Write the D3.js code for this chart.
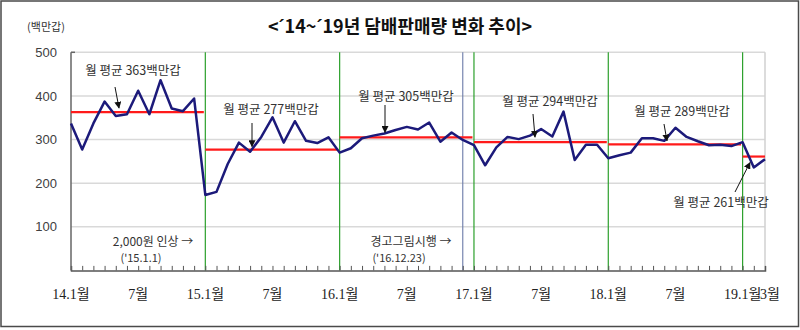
<!DOCTYPE html>
<html>
<head>
<meta charset="utf-8">
<script src="https://cdn.jsdelivr.net/npm/d3@7"></script>
<style>
  html, body { margin: 0; padding: 0; background: #fff; }
  svg { display: block; }
</style>
</head>
<body>
<svg id="chart" width="800" height="330"></svg>
<script>
// Monthly cigarette sales, Jan 2014 – Mar 2019 (million packs)
const months = [
  "14.1","14.2","14.3","14.4","14.5","14.6","14.7","14.8","14.9","14.10","14.11","14.12",
  "15.1","15.2","15.3","15.4","15.5","15.6","15.7","15.8","15.9","15.10","15.11","15.12",
  "16.1","16.2","16.3","16.4","16.5","16.6","16.7","16.8","16.9","16.10","16.11","16.12",
  "17.1","17.2","17.3","17.4","17.5","17.6","17.7","17.8","17.9","17.10","17.11","17.12",
  "18.1","18.2","18.3","18.4","18.5","18.6","18.7","18.8","18.9","18.10","18.11","18.12",
  "19.1","19.2","19.3"
];
const sales = [
  337, 277, 337, 387, 354, 358, 412, 358, 436, 371, 365, 394,
  173, 180, 244, 293, 272, 306, 351, 293, 342, 297, 292, 305,
  270, 280, 303, 309, 314, 322, 329, 323, 339, 295, 316, 299,
  287, 241, 282, 306, 301, 309, 324, 307, 364, 253, 288, 288,
  257, 264, 270, 303, 303, 297, 327, 306, 296, 287, 288, 285,
  294, 236, 255
];

// Yearly monthly averages and the month span each one covers
const avgYears  = ["2014", "2015", "2016", "2017", "2018", "2019"];
const avgValues = [363, 277, 305, 294, 289, 261];
const avgStart  = ["14.1", "15.1", "16.1", "17.1", "18.1", "19.1"];
const avgEnd    = ["15.1", "16.1", "17.1", "18.1", "19.1", "19.3"];

// Axis ticks
const yTicks = [100, 200, 300, 400, 500];
const xTickMonths = ["14.1", "14.7", "15.1", "15.7", "16.1", "16.7", "17.1", "17.7", "18.1", "18.7", "19.1", "19.3"];
const xTickLabels = ["14.1월", "7월", "15.1월", "7월", "16.1월", "7월", "17.1월", "7월", "18.1월", "7월", "19.1월", "3월"];

// Year boundaries and the policy event line
const yearStarts = ["15.1", "16.1", "17.1", "18.1", "19.1"];
const eventMonth = "16.12";

const svg = d3.select("#chart");
const W = 800, H = 330;
const plot = { left: 71, right: 765, top: 52.3, bottom: 270.4 };

const idx = m => months.indexOf(m);
const x = d3.scaleLinear().domain([0, months.length - 1]).range([plot.left, plot.right]);
const y = d3.scaleLinear().domain([0, 500]).range([plot.bottom, plot.top]);

const SANS = "'Noto Sans CJK KR', 'Noto Sans', sans-serif";
const SERIF = "'Liberation Serif', 'Noto Sans CJK KR', serif";
const LATIN = "'Liberation Sans', Arial, sans-serif";

// outer frame
svg.append("rect")
  .attr("x", 1).attr("y", 1).attr("width", W - 2.5).attr("height", H - 4.5)
  .attr("fill", "none").attr("stroke", "#4a4a4a").attr("stroke-width", 1.5);

// title (the prime marks use a Latin face so they sit tight to the digits)
const title = svg.append("text")
  .attr("x", 400).attr("y", 33)
  .attr("text-anchor", "middle")
  .attr("font-family", SANS).attr("font-weight", "bold").attr("font-size", 18)
  .attr("fill", "#111");
[["<", SANS], ["´", LATIN], ["14~", SANS], ["´", LATIN], ["19년 담배판매량 변화 추이>", SANS]]
  .forEach(([t, f]) => title.append("tspan").attr("font-family", f).text(t));

svg.append("text")
  .attr("x", 46).attr("y", 31)
  .attr("text-anchor", "middle")
  .attr("font-family", SANS).attr("font-size", 11)
  .attr("fill", "#333")
  .text("(백만갑)");

// horizontal gridlines
svg.append("g").selectAll("line").data(yTicks).join("line")
  .attr("x1", plot.left).attr("x2", plot.right)
  .attr("y1", d => y(d)).attr("y2", d => y(d))
  .attr("stroke", "#d9d9d9").attr("stroke-width", 1.5);

// right edge of plot area
svg.append("line")
  .attr("x1", plot.right).attr("x2", plot.right)
  .attr("y1", y(500)).attr("y2", y(0))
  .attr("stroke", "#d0d0d0").attr("stroke-width", 1.5);

// y axis labels
const yAxis = d3.axisLeft(y).tickValues(yTicks).tickSize(0).tickPadding(14);
const gy = svg.append("g").attr("transform", `translate(${plot.left},0)`).call(yAxis);
gy.select(".domain").remove();
gy.selectAll("text")
  .attr("font-family", LATIN)
  .attr("font-size", 13).attr("fill", "#404040");

// year boundary lines
svg.append("g").selectAll("line").data(yearStarts).join("line")
  .attr("x1", d => x(idx(d))).attr("x2", d => x(idx(d)))
  .attr("y1", y(500)).attr("y2", y(0))
  .attr("stroke", "#2ca02c").attr("stroke-width", 1.2);

svg.append("line")
  .attr("x1", x(idx(eventMonth))).attr("x2", x(idx(eventMonth)))
  .attr("y1", y(500)).attr("y2", y(0))
  .attr("stroke", "#6a7aa8").attr("stroke-width", 1.1);

// x axis with monthly ticks pointing up
const xAxis = d3.axisBottom(x).tickValues(d3.range(months.length)).tickSize(-4.5).tickFormat("");
const gx = svg.append("g").attr("transform", `translate(0,${y(0)})`).call(xAxis);
gx.select(".domain").attr("stroke", "#555").attr("stroke-width", 1.5);
gx.selectAll(".tick line").attr("stroke", "#555");

// left axis line
svg.append("line")
  .attr("x1", plot.left).attr("x2", plot.left)
  .attr("y1", y(500)).attr("y2", y(0))
  .attr("stroke", "#666").attr("stroke-width", 1.5);
svg.append("line")
  .attr("x1", plot.left).attr("x2", plot.left + 4)
  .attr("y1", y(500)).attr("y2", y(500))
  .attr("stroke", "#666").attr("stroke-width", 1.5);

// x tick labels
svg.append("g").selectAll("text").data(xTickMonths).join("text")
  .attr("x", (d, i) => x(idx(d)) + (i === xTickMonths.length - 1 ? 5 : 0))
  .attr("y", 299)
  .attr("text-anchor", "middle")
  .attr("font-family", SERIF).attr("font-size", 14)
  .attr("fill", "#222")
  .text((d, i) => xTickLabels[i]);

// yearly average lines
svg.append("g").selectAll("line").data(avgValues).join("line")
  .attr("x1", (d, i) => x(idx(avgStart[i])))
  .attr("x2", (d, i) => x(idx(avgEnd[i])) - (i < avgValues.length - 1 ? 1.5 : 0))
  .attr("y1", d => y(d)).attr("y2", d => y(d))
  .attr("stroke", "#ff1a1a").attr("stroke-width", 2.2);

// monthly sales line
const line = d3.line().x((d, i) => x(i)).y(d => y(d));
svg.append("path")
  .datum(sales)
  .attr("d", line)
  .attr("fill", "none")
  .attr("stroke", "#1c1a7a")
  .attr("stroke-width", 2.5)
  .attr("stroke-linejoin", "round");

// arrow marker
svg.append("defs").append("marker")
  .attr("id", "head")
  .attr("viewBox", "0 0 10 10")
  .attr("refX", 9).attr("refY", 5)
  .attr("markerWidth", 7).attr("markerHeight", 7)
  .attr("markerUnits", "userSpaceOnUse")
  .attr("orient", "auto")
  .append("path").attr("d", "M0,0 L10,5 L0,10 z").attr("fill", "#111");

// average callouts: label position and arrow from label towards the line
const callouts = [
  { tx: 133, ty: 75,  ax1: 115, ay1: 87,  ax2: 119, ay2: y(avgValues[0]) - 4 },
  { tx: 271, ty: 114, ax1: 252, ay1: 123, ax2: 252, ay2: y(avgValues[1]) - 3 },
  { tx: 406, ty: 101, ax1: 385, ay1: 105, ax2: 385, ay2: y(avgValues[2]) - 5 },
  { tx: 550, ty: 106, ax1: 533, ay1: 114, ax2: 535, ay2: y(avgValues[3]) - 5 },
  { tx: 682, ty: 116, ax1: 664, ay1: 124, ax2: 667, ay2: y(sales[idx("18.6")]) },
  { tx: 721, ty: 207, ax1: 735, ay1: 192, ax2: 750, ay2: y(avgValues[5]) + 6 }
];

const cg = svg.append("g");
cg.selectAll("text").data(callouts).join("text")
  .attr("x", d => d.tx).attr("y", d => d.ty)
  .attr("text-anchor", "middle")
  .attr("font-family", SANS).attr("font-size", 12.5)
  .attr("fill", "#333")
  .text((d, i) => `월 평균 ${avgValues[i]}백만갑`);
cg.selectAll("line").data(callouts).join("line")
  .attr("x1", d => d.ax1).attr("y1", d => d.ay1)
  .attr("x2", d => d.ax2).attr("y2", d => d.ay2)
  .attr("stroke", "#111").attr("stroke-width", 1)
  .attr("marker-end", "url(#head)");

// policy notes
const notes = [
  { cx: 153, lines: ["2,000원 인상 →", "('15.1.1)"] },
  { cx: 411, lines: ["경고그림시행 →", "('16.12.23)"] }
];
notes.forEach(n => {
  svg.append("text")
    .attr("x", n.cx).attr("y", 246)
    .attr("text-anchor", "middle")
    .attr("font-family", SANS).attr("font-size", 12)
    .attr("fill", "#333").text(n.lines[0]);
  svg.append("text")
    .attr("x", n.cx - 12).attr("y", 262)
    .attr("text-anchor", "middle")
    .attr("font-family", SANS).attr("font-size", 11)
    .attr("fill", "#333").text(n.lines[1]);
});
</script>
</body>
</html>
